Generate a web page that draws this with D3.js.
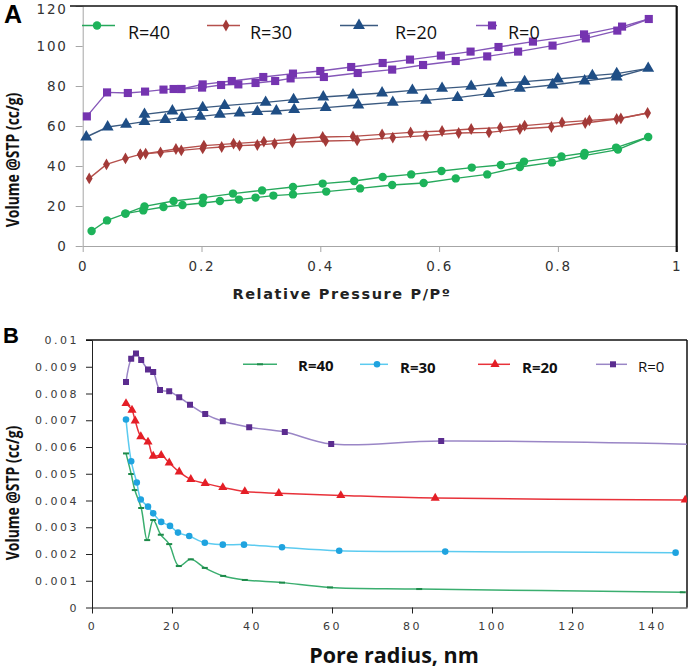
<!DOCTYPE html>
<html lang="en">
<head>
  <meta charset="UTF-8">
  <title>Isotherms and pore size distribution</title>
  <script src="https://cdn.jsdelivr.net/npm/d3@7"></script>
  <style>
    body { margin: 0; background: #fff; }
    .tick text { font-family: "DejaVu Sans", Verdana, sans-serif; }
    .axA .tick text { font-size: 13.5px; letter-spacing: 1.8px; fill: #333; }
    .axB .tick text { font-size: 11px; letter-spacing: 2.5px; fill: #3a3a3a; }
    .axA path, .axA line { stroke: #a6a6a6; }
    .axB path, .axB line { stroke: #222; }
    .ylab { font-family: "Open Sans", sans-serif; font-weight: bold; font-size: 17px; fill: #111; }
  </style>
</head>
<body>
<script>
  // ---- panel A: N2 isotherms (P/P0, cc/g), adsorption and desorption branches
  var seriesNames = ["R=40", "R=30", "R=20", "R=0"];

  var ads40 = [[0.015,7.5],[0.041,12.8],[0.072,16.2],[0.102,17.8],[0.136,19.5],[0.168,20.5],[0.202,21.5],[0.231,22.5],[0.263,23.2],[0.291,24.2],[0.321,25.2],[0.354,25.8],[0.410,27.2],[0.467,28.8],[0.521,30.5],[0.574,31.5],[0.628,33.8],[0.681,35.8],[0.736,39.5],[0.790,41.8],[0.844,45.2],[0.901,48.2],[0.952,54.5]];
  var des40 = [[0.952,54.5],[0.898,49.2],[0.845,46.5],[0.806,44.8],[0.743,42.2],[0.704,40.5],[0.655,39.2],[0.604,37.5],[0.553,35.8],[0.505,34.5],[0.457,32.5],[0.404,31.2],[0.354,29.5],[0.302,27.8],[0.253,26.2],[0.203,24.2],[0.153,22.5],[0.104,19.8],[0.072,16.2]];

  var ads30 = [[0.011,33.8],[0.040,40.8],[0.072,43.8],[0.097,45.8],[0.131,46.8],[0.166,47.8],[0.202,48.8],[0.234,49.5],[0.264,50.2],[0.294,50.5],[0.323,51.2],[0.353,51.8],[0.409,52.5],[0.462,52.8],[0.522,54.2],[0.578,55.2],[0.633,56.5],[0.684,56.8],[0.736,58.5],[0.789,59.5],[0.846,61.5],[0.899,63.5],[0.951,66.5]];
  var des30 = [[0.951,66.5],[0.906,63.8],[0.853,62.8],[0.807,61.8],[0.744,60.2],[0.703,59.2],[0.654,58.5],[0.605,57.5],[0.552,56.8],[0.504,55.8],[0.455,54.8],[0.404,54.5],[0.355,53.5],[0.305,52.2],[0.254,51.2],[0.204,50.2],[0.157,48.5],[0.106,46.2],[0.097,45.8]];

  var ads20 = [[0.006,54.5],[0.042,59.5],[0.073,60.8],[0.104,62.2],[0.139,63.2],[0.167,64.2],[0.198,64.8],[0.231,65.8],[0.264,66.5],[0.294,67.2],[0.326,67.5],[0.356,68.2],[0.409,69.2],[0.464,70.5],[0.522,71.8],[0.578,72.8],[0.631,74.2],[0.684,76.2],[0.736,78.8],[0.791,80.5],[0.845,82.5],[0.899,84.5],[0.952,88.8]];
  var des20 = [[0.952,88.8],[0.899,86.2],[0.858,85.2],[0.800,83.5],[0.744,82.2],[0.705,81.5],[0.654,79.8],[0.605,78.8],[0.555,77.8],[0.504,76.5],[0.455,75.5],[0.405,74.5],[0.355,73.2],[0.308,71.8],[0.239,70.2],[0.202,69.2],[0.151,67.5],[0.104,65.8]];

  var ads0 = [[0.007,64.8],[0.041,76.8],[0.076,76.5],[0.105,77.2],[0.136,78.2],[0.153,78.5],[0.166,78.5],[0.201,79.2],[0.233,80.5],[0.262,80.8],[0.291,81.5],[0.324,82.5],[0.350,83.8],[0.406,84.5],[0.463,86.5],[0.521,88.2],[0.573,90.5],[0.628,92.5],[0.681,94.8],[0.733,97.2],[0.791,100.2],[0.847,103.8],[0.900,107.7],[0.953,113.5]];
  var des0 = [[0.953,113.5],[0.908,109.7],[0.844,105.8],[0.758,102.2],[0.700,99.5],[0.653,97.2],[0.603,95.2],[0.551,93.2],[0.505,91.5],[0.452,89.5],[0.400,87.5],[0.354,86.2],[0.304,84.5],[0.251,82.5],[0.202,80.8],[0.166,78.5]];

  var xTicksA = [0, 0.2, 0.4, 0.6, 0.8, 1];
  var yTicksA = [0, 20, 40, 60, 80, 100, 120];

  // ---- panel B: pore size distribution (nm, cc/g)
  var psd40 = [[8.5,0.00576],[9.8,0.00499],[10.7,0.00439],[12.3,0.00372],[13.8,0.00252],[15.3,0.00327],[17.2,0.00272],[19.3,0.00237],[21.7,0.00155],[24.7,0.00180],[28.2,0.00148],[32.8,0.00118],[38.2,0.00103],[47.5,0.00093],[59.5,0.00075],[81.8,0.00069],[147.7,0.00057]];
  var psd30 = [[8.5,0.00703],[9.8,0.00547],[11.2,0.00467],[12.2,0.00404],[14.0,0.00377],[15.3,0.00352],[17.3,0.00320],[19.5,0.00305],[21.5,0.00280],[24.3,0.00267],[28.2,0.00242],[32.7,0.00235],[38.0,0.00235],[47.5,0.00225],[61.8,0.00212],[88.3,0.00209],[145.9,0.00205]];
  var psd20 = [[8.5,0.00763],[10.0,0.00738],[10.8,0.00698],[12.2,0.00639],[14.0,0.00619],[15.3,0.00566],[17.3,0.00569],[19.3,0.00541],[21.8,0.00507],[24.7,0.00479],[28.3,0.00464],[32.7,0.00449],[38.2,0.00434],[46.7,0.00427],[62.2,0.00419],[85.8,0.00409],[148.3,0.00402]];
  var psd0 = [[8.5,0.00843],[9.8,0.00930],[11.0,0.00950],[12.3,0.00925],[14.0,0.00890],[15.3,0.00880],[17.0,0.00813],[19.3,0.00808],[21.8,0.00786],[24.5,0.00758],[28.3,0.00723],[32.7,0.00696],[39.3,0.00674],[48.2,0.00656],[59.8,0.00611],[87.3,0.00622],[150,0.00610]];

  var xTicksB = [0, 20, 40, 60, 80, 100, 120, 140];
  var yTicksB = [0, 0.001, 0.002, 0.003, 0.004, 0.005, 0.006, 0.007, 0.008, 0.009, 0.01];

  var svg = d3.select("body").append("svg")
    .attr("width", 692)
    .attr("height", 671);

  // ================= panel A =================
  var xA = d3.scaleLinear().domain([0, 1]).range([82.7, 676.7]);
  var yA = d3.scaleLinear().domain([0, 120]).range([246, 6]);

  var stylesA = [
    { ads: ads40, des: des40, line: "#27a85c", fill: "#1db35a", sym: d3.symbolCircle, size: 56 },
    { ads: ads30, des: des30, line: "#b5504c", fill: "#a33a38", sym: d3.symbolDiamond, size: 40 },
    { ads: ads20, des: des20, line: "#3b5a80", fill: "#1f4e85", sym: d3.symbolTriangle, size: 62 },
    { ads: ads0,  des: des0,  line: "#8557b8", fill: "#7534b0", sym: d3.symbolSquare, size: 66 }
  ];

  var gA = svg.append("g");

  var yAxisA = gA.append("g")
    .attr("class", "axA")
    .attr("transform", "translate(" + xA.range()[0] + ",0)")
    .call(d3.axisLeft(yA).tickValues(yTicksA).tickFormat(String).tickSize(7).tickPadding(8).tickSizeOuter(0));
  // the top label sits a little under its tick, as in the original
  yAxisA.selectAll(".tick text").filter(function(d) { return d === 120; }).attr("dy", "0.55em");

  gA.append("g")
    .attr("class", "axA")
    .attr("transform", "translate(0," + yA(0) + ")")
    .call(d3.axisBottom(xA).tickValues(xTicksA).tickFormat(String).tickSize(6).tickPadding(9).tickSizeOuter(0));

  // black frame on top and right
  gA.append("line").attr("x1", 70).attr("x2", xA(1)).attr("y1", yA(120)).attr("y2", yA(120))
    .attr("stroke", "#111").attr("stroke-width", 1.5);
  gA.append("line").attr("x1", xA(1)).attr("x2", xA(1)).attr("y1", yA(120)).attr("y2", yA(0) + 6)
    .attr("stroke", "#111").attr("stroke-width", 2.2);

  var lineA = d3.line().x(function(d) { return xA(d[0]); }).y(function(d) { return yA(d[1]); });

  stylesA.forEach(function(s) {
    [s.ads, s.des].forEach(function(branch) {
      gA.append("path").datum(branch)
        .attr("d", lineA)
        .attr("fill", "none")
        .attr("stroke", s.line)
        .attr("stroke-width", 1.4);
    });
    gA.selectAll(null).data(s.ads.concat(s.des.slice(1)))
      .enter().append("path")
      .attr("d", d3.symbol().type(s.sym).size(s.size))
      .attr("transform", function(d) { return "translate(" + xA(d[0]) + "," + yA(d[1]) + ")"; })
      .attr("fill", s.fill);
  });

  // legend A
  var legA = [
    { x1: 82, x2: 115, mx: 97, tx: 128 },
    { x1: 207, x2: 240, mx: 226, tx: 250 },
    { x1: 340, x2: 378, mx: 359, tx: 395 },
    { x1: 476, x2: 497, mx: 492, tx: 508 }
  ];
  legA.forEach(function(l, i) {
    var s = stylesA[i];
    gA.append("line").attr("x1", l.x1).attr("x2", l.x2).attr("y1", 25.5).attr("y2", 25.5)
      .attr("stroke", s.line).attr("stroke-width", 1.5);
    gA.append("path").attr("d", d3.symbol().type(s.sym).size(s.size))
      .attr("transform", "translate(" + l.mx + ",25.5)").attr("fill", s.fill);
    gA.append("text").attr("x", l.tx).attr("y", 38.5)
      .style("font-family", "'Open Sans', sans-serif").style("font-size", "18px").attr("fill", "#111")
      .text(seriesNames[i]);
  });

  gA.append("text").attr("x", 342).attr("y", 299).attr("text-anchor", "middle")
    .style("font-family", "'DejaVu Sans', Verdana, sans-serif").style("font-weight", "bold")
    .style("font-size", "14.5px").style("letter-spacing", "1.6px").attr("fill", "#222")
    .text("Relative Pressure P/Pº");

  gA.append("text").attr("class", "ylab")
    .attr("transform", "translate(13.5,160) rotate(-90) scale(0.82,1)")
    .attr("text-anchor", "middle").attr("dy", "0.35em")
    .text("Volume @STP (cc/g)");

  svg.append("text").attr("x", 4).attr("y", 23)
    .style("font-family", "'Liberation Sans', Arial, sans-serif").style("font-weight", "bold")
    .style("font-size", "25px").text("A");

  // ================= panel B =================
  var xB = d3.scaleLinear().domain([0, 148.75]).range([92, 687]);
  var yB = d3.scaleLinear().domain([0, 0.01]).range([607.5, 340]);

  var stylesB = [
    { data: psd40, line: "#3aae6f", fill: "#1e8a4a", sym: "dash" },
    { data: psd30, line: "#5ccbf0", fill: "#1fa3df", sym: d3.symbolCircle, size: 34 },
    { data: psd20, line: "#e8323a", fill: "#e41e26", sym: d3.symbolTriangle, size: 36 },
    { data: psd0,  line: "#9a86c6", fill: "#5b2c8f", sym: d3.symbolSquare, size: 36 }
  ];

  var gB = svg.append("g");

  svg.append("clipPath").attr("id", "clipB").append("rect")
    .attr("x", xB.range()[0]).attr("y", yB.range()[1])
    .attr("width", xB.range()[1] - xB.range()[0]).attr("height", yB.range()[0] - yB.range()[1]);

  gB.append("g")
    .attr("class", "axB")
    .attr("transform", "translate(" + xB.range()[0] + ",0)")
    .call(d3.axisLeft(yB).tickValues(yTicksB).tickFormat(String)
      .tickSize(6).tickPadding(7).tickSizeOuter(0));

  gB.append("g")
    .attr("class", "axB")
    .attr("transform", "translate(0," + yB(0) + ")")
    .call(d3.axisBottom(xB).tickValues(xTicksB).tickFormat(String).tickSize(6).tickPadding(9).tickSizeOuter(0));

  gB.append("line").attr("x1", 86).attr("x2", xB.range()[1]).attr("y1", yB(0.01)).attr("y2", yB(0.01))
    .attr("stroke", "#111").attr("stroke-width", 1.5);
  gB.append("line").attr("x1", xB.range()[1]).attr("x2", xB.range()[1]).attr("y1", yB(0.01)).attr("y2", yB(0))
    .attr("stroke", "#111").attr("stroke-width", 1.5);

  var lineB = d3.line().curve(d3.curveCatmullRom.alpha(0.5))
    .x(function(d) { return xB(d[0]); }).y(function(d) { return yB(d[1]); });

  var plotB = gB.append("g").attr("clip-path", "url(#clipB)");

  function drawMarker(sel, s) {
    if (s.sym === "dash") {
      sel.append("rect").attr("x", -3).attr("y", -1).attr("width", 6).attr("height", 2).attr("fill", s.fill);
    } else {
      sel.append("path").attr("d", d3.symbol().type(s.sym).size(s.size)).attr("fill", s.fill);
    }
  }

  stylesB.forEach(function(s) {
    plotB.append("path").datum(s.data)
      .attr("d", lineB)
      .attr("fill", "none")
      .attr("stroke", s.line)
      .attr("stroke-width", 1.5);
    var m = plotB.selectAll(null).data(s.data).enter().append("g")
      .attr("transform", function(d) { return "translate(" + xB(d[0]) + "," + yB(d[1]) + ")"; });
    drawMarker(m, s);
  });

  // legend B
  var legB = [
    { x1: 243, x2: 277, mx: 260, tx: 298, ty: 371, bold: true },
    { x1: 360, x2: 388, mx: 377, tx: 400, ty: 373, bold: true },
    { x1: 478, x2: 510, mx: 495, tx: 522, ty: 373, bold: true },
    { x1: 596, x2: 627, mx: 613, tx: 638, ty: 371.5, bold: false }
  ];
  legB.forEach(function(l, i) {
    var s = stylesB[i];
    gB.append("line").attr("x1", l.x1).attr("x2", l.x2).attr("y1", 364.3).attr("y2", 364.3)
      .attr("stroke", s.line).attr("stroke-width", 1.5);
    drawMarker(gB.append("g").attr("transform", "translate(" + l.mx + ",364.3)"), s);
    gB.append("text").attr("x", l.tx).attr("y", l.ty)
      .style("font-family", "'Open Sans', sans-serif").style("font-size", "15px")
      .style("font-weight", l.bold ? "bold" : "normal").attr("fill", "#111")
      .text(seriesNames[i]);
  });

  gB.append("text").attr("x", 394).attr("y", 663).attr("text-anchor", "middle")
    .style("font-family", "'Open Sans', sans-serif").style("font-weight", "bold")
    .style("font-size", "21.5px").attr("fill", "#111")
    .text("Pore radius, nm");

  gB.append("text").attr("class", "ylab")
    .attr("transform", "translate(13.5,493) rotate(-90) scale(0.82,1)")
    .attr("text-anchor", "middle").attr("dy", "0.35em")
    .text("Volume @STP (cc/g)");

  svg.append("text").attr("x", 3).attr("y", 343)
    .style("font-family", "'Liberation Sans', Arial, sans-serif").style("font-weight", "bold")
    .style("font-size", "22px").text("B");
</script>
</body>
</html>
